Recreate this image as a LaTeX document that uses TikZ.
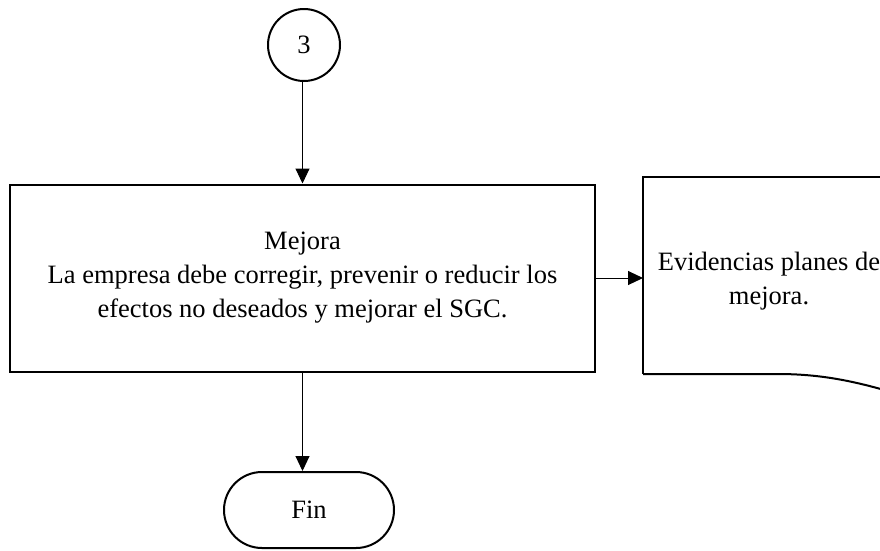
\documentclass[tikz,border=0pt]{standalone}
\usepackage{fontspec}
\setmainfont{Liberation Serif}
\usetikzlibrary{arrows.meta}
\begin{document}
\begin{tikzpicture}[x=1pt,y=-1pt,
  shapeline/.style={draw=black,line width=2pt},
  conn/.style={draw=black,line width=1pt,-{Triangle[length=15pt,width=14pt]}},
  txt/.style={font=\fontsize{26.5}{34}\selectfont,align=center}]
\useasboundingbox (0,0) rectangle (880,550);
\clip (0,0) rectangle (880,550);
\fill[white] (0,0) rectangle (880,550);
\node[shapeline,circle,minimum size=72pt,inner sep=0pt,txt] (c3) at (304,45) {3};
\node[shapeline,rectangle,minimum width=585pt,minimum height=187pt,inner sep=0pt,txt] (mej) at (302.5,278)
  {Mejora\\La empresa debe corregir, prevenir o reducir los\\efectos no deseados y mejorar el SGC.};
\node[rectangle,minimum width=252pt,minimum height=180pt,inner sep=0pt,txt] (doc) at (769,281)
  {Evidencias planes de\\mejora.};
\draw[shapeline] ([shift={(-126,93)}]doc.center) coordinate (dsw) -- ([shift={(-126,-104)}]doc.center) -- ([shift={(150,-104)}]doc.center);
\draw[shapeline] (dsw) -- ++(135,0) .. controls +(45,0) and +(-40,-12) .. ++(120,20);
\node[shapeline,rectangle,rounded corners=38pt,minimum width=170pt,minimum height=76pt,inner sep=0pt,txt] (fin) at (309,510) {Fin};
\draw[conn] (c3.south -| mej.north) -- (mej.north);
\draw[conn] (mej.east) -- (mej.east -| dsw);
\draw[conn] (mej.south) -- (mej.south |- fin.north);
\end{tikzpicture}
\end{document}
